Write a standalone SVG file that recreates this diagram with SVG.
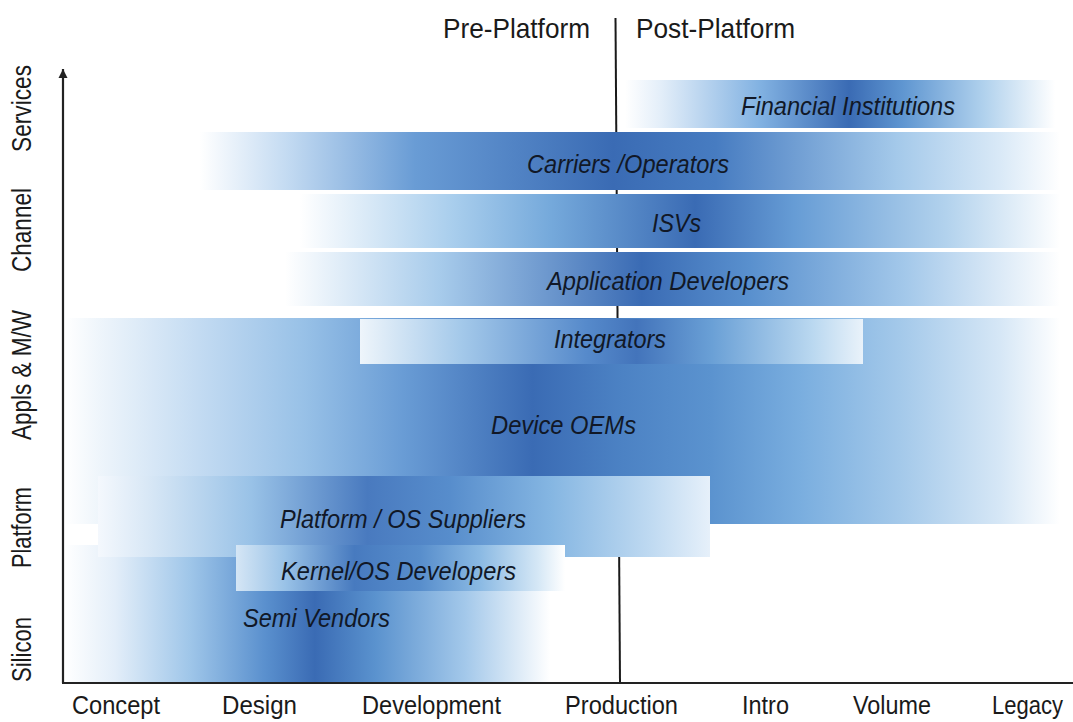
<svg xmlns="http://www.w3.org/2000/svg" width="1073" height="722" viewBox="0 0 1073 722">
<style>
.lbl{font-family:"Liberation Sans",Arial,sans-serif;font-style:italic;font-size:25px;fill:#111827;}
.ax{font-family:"Liberation Sans",Arial,sans-serif;font-size:25px;fill:#1a1a1a;}
.hd{font-family:"Liberation Sans",Arial,sans-serif;font-size:28px;fill:#1a1a1a;}
.vl{font-family:"Liberation Sans",Arial,sans-serif;font-size:27px;fill:#1a1a1a;text-anchor:middle;}
.axis{stroke:#222;stroke-width:2.2;fill:none;}
</style>
<defs>
<linearGradient id="gFin"><stop offset="0" stop-color="#fff"/><stop offset="0.08" stop-color="#e3eef9"/><stop offset="0.3" stop-color="#82b2e2"/><stop offset="0.5" stop-color="#3a6bb4"/><stop offset="0.62" stop-color="#5f96d1"/><stop offset="0.8" stop-color="#b0d1ed"/><stop offset="0.96" stop-color="#fff"/><stop offset="1" stop-color="#fff"/></linearGradient>
<linearGradient id="gCar"><stop offset="0" stop-color="#fff"/><stop offset="0.1" stop-color="#c4dbf2"/><stop offset="0.25" stop-color="#699cd5"/><stop offset="0.48" stop-color="#3a6bb4"/><stop offset="0.6" stop-color="#477cc1"/><stop offset="0.81" stop-color="#a4c9ea"/><stop offset="0.93" stop-color="#d9e9f7"/><stop offset="1" stop-color="#fff"/></linearGradient>
<linearGradient id="gIsv"><stop offset="0" stop-color="#fff"/><stop offset="0.2" stop-color="#a9ceed"/><stop offset="0.33" stop-color="#75a9db"/><stop offset="0.52" stop-color="#3a6bb4"/><stop offset="0.65" stop-color="#669cd5"/><stop offset="0.85" stop-color="#b2d2ed"/><stop offset="1" stop-color="#fff"/></linearGradient>
<linearGradient id="gApp"><stop offset="0" stop-color="#fff"/><stop offset="0.2" stop-color="#a7cbeb"/><stop offset="0.46" stop-color="#3a6bb4"/><stop offset="0.6" stop-color="#5990ce"/><stop offset="0.8" stop-color="#a3c8ea"/><stop offset="1" stop-color="#fff"/></linearGradient>
<linearGradient id="gOem"><stop offset="0" stop-color="#fff"/><stop offset="0.035" stop-color="#eef5fb"/><stop offset="0.135" stop-color="#c3dbf2"/><stop offset="0.24" stop-color="#98c1e7"/><stop offset="0.34" stop-color="#699cd5"/><stop offset="0.47" stop-color="#3a6bb4"/><stop offset="0.56" stop-color="#4c82c4"/><stop offset="0.65" stop-color="#5b93cf"/><stop offset="0.74" stop-color="#7aaedf"/><stop offset="0.84" stop-color="#a4c9ea"/><stop offset="0.94" stop-color="#d6e7f6"/><stop offset="1" stop-color="#fff"/></linearGradient>
<linearGradient id="gInt"><stop offset="0" stop-color="#eef5fb"/><stop offset="0.2" stop-color="#a4c9ea"/><stop offset="0.45" stop-color="#568acb"/><stop offset="0.55" stop-color="#4374bb"/><stop offset="0.7" stop-color="#6aa0d6"/><stop offset="0.9" stop-color="#bad8f0"/><stop offset="1" stop-color="#e9f2fa"/></linearGradient>
<linearGradient id="gPlat"><stop offset="0" stop-color="#f4f8fd"/><stop offset="0.08" stop-color="#d9e8f6"/><stop offset="0.25" stop-color="#99c2e7"/><stop offset="0.44" stop-color="#497abf"/><stop offset="0.575" stop-color="#578dcc"/><stop offset="0.74" stop-color="#85b6e2"/><stop offset="0.9" stop-color="#bed9f1"/><stop offset="1" stop-color="#e6f0fa"/></linearGradient>
<linearGradient id="gKer"><stop offset="0" stop-color="#d5e6f5"/><stop offset="0.15" stop-color="#99c2e7"/><stop offset="0.36" stop-color="#477abf"/><stop offset="0.56" stop-color="#588ecc"/><stop offset="0.74" stop-color="#8ab9e3"/><stop offset="0.92" stop-color="#d6e8f6"/><stop offset="1" stop-color="#fff"/></linearGradient>
<linearGradient id="gSemi"><stop offset="0" stop-color="#fff"/><stop offset="0.1" stop-color="#e3eef9"/><stop offset="0.25" stop-color="#9fc6e9"/><stop offset="0.4" stop-color="#5a90ce"/><stop offset="0.5" stop-color="#3a6bb4"/><stop offset="0.62" stop-color="#5a92ce"/><stop offset="0.8" stop-color="#a3c8ea"/><stop offset="0.97" stop-color="#fff"/><stop offset="1" stop-color="#fff"/></linearGradient>
<marker id="arr" viewBox="0 0 10 10" refX="10" refY="5" markerWidth="4.2" markerHeight="4.2" orient="auto" markerUnits="strokeWidth"><path d="M0,0 L10,5 L0,10 z" fill="#222"/></marker>
</defs>

<g id="divider-line"><line x1="615.5" y1="18" x2="620" y2="682" stroke="#1a1a1a" stroke-width="2"/></g>

<g id="semi-vendors"><rect x="65" y="545" width="500" height="137" fill="url(#gSemi)"/><text class="lbl" x="243" y="627" textLength="147" lengthAdjust="spacingAndGlyphs">Semi Vendors</text></g>
<g id="device-oems"><rect x="65" y="318" width="995" height="206" fill="url(#gOem)"/><text class="lbl" x="491" y="434" textLength="145" lengthAdjust="spacingAndGlyphs">Device OEMs</text></g>
<g id="platform-os-suppliers"><rect x="98" y="476" width="612" height="81" fill="url(#gPlat)"/><text class="lbl" x="280" y="528" textLength="246" lengthAdjust="spacingAndGlyphs">Platform / OS Suppliers</text></g>
<g id="kernel-os-developers"><rect x="236" y="545" width="329" height="46" fill="url(#gKer)"/><text class="lbl" x="281" y="580" textLength="235" lengthAdjust="spacingAndGlyphs">Kernel/OS Developers</text></g>
<g id="integrators"><rect x="360" y="319" width="503" height="45" fill="url(#gInt)"/><text class="lbl" x="554" y="348" textLength="112" lengthAdjust="spacingAndGlyphs">Integrators</text></g>
<g id="application-developers"><rect x="285" y="252" width="775" height="54" fill="url(#gApp)"/><text class="lbl" x="547" y="290" textLength="242" lengthAdjust="spacingAndGlyphs">Application Developers</text></g>
<g id="isvs"><rect x="300" y="194" width="760" height="54" fill="url(#gIsv)"/><text class="lbl" x="652" y="232" textLength="49" lengthAdjust="spacingAndGlyphs">ISVs</text></g>
<g id="carriers-operators"><rect x="200" y="132" width="860" height="58" fill="url(#gCar)"/><text class="lbl" x="527" y="173" textLength="202" lengthAdjust="spacingAndGlyphs">Carriers /Operators</text></g>
<g id="financial-institutions"><rect x="625" y="80" width="448" height="48" fill="url(#gFin)"/><text class="lbl" x="741" y="115" textLength="214" lengthAdjust="spacingAndGlyphs">Financial Institutions</text></g>

<g id="connectors">
<line class="axis" x1="63" y1="683" x2="63" y2="69" marker-end="url(#arr)"/>
<line class="axis" x1="62" y1="683" x2="1073" y2="683"/>
</g>

<g id="headers">
<text class="hd" x="443" y="38" textLength="147" lengthAdjust="spacingAndGlyphs">Pre-Platform</text>
<text class="hd" x="636" y="38" textLength="159" lengthAdjust="spacingAndGlyphs">Post-Platform</text>
</g>

<g id="x-labels">
<text class="ax" x="72" y="714" textLength="88" lengthAdjust="spacingAndGlyphs">Concept</text>
<text class="ax" x="222" y="714" textLength="75" lengthAdjust="spacingAndGlyphs">Design</text>
<text class="ax" x="362" y="714" textLength="139" lengthAdjust="spacingAndGlyphs">Development</text>
<text class="ax" x="565" y="714" textLength="113" lengthAdjust="spacingAndGlyphs">Production</text>
<text class="ax" x="742" y="714" textLength="47" lengthAdjust="spacingAndGlyphs">Intro</text>
<text class="ax" x="853" y="714" textLength="78" lengthAdjust="spacingAndGlyphs">Volume</text>
<text class="ax" x="992" y="714" textLength="71" lengthAdjust="spacingAndGlyphs">Legacy</text>
</g>

<g id="y-labels">
<text class="vl" transform="translate(31,108.5) rotate(-90)" textLength="87" lengthAdjust="spacingAndGlyphs">Services</text>
<text class="vl" transform="translate(31,230) rotate(-90)" textLength="84" lengthAdjust="spacingAndGlyphs">Channel</text>
<text class="vl" transform="translate(31,375) rotate(-90)" textLength="130" lengthAdjust="spacingAndGlyphs">Appls &amp; M/W</text>
<text class="vl" transform="translate(31,527.5) rotate(-90)" textLength="81" lengthAdjust="spacingAndGlyphs">Platform</text>
<text class="vl" transform="translate(31,649.5) rotate(-90)" textLength="65" lengthAdjust="spacingAndGlyphs">Silicon</text>
</g>
</svg>
